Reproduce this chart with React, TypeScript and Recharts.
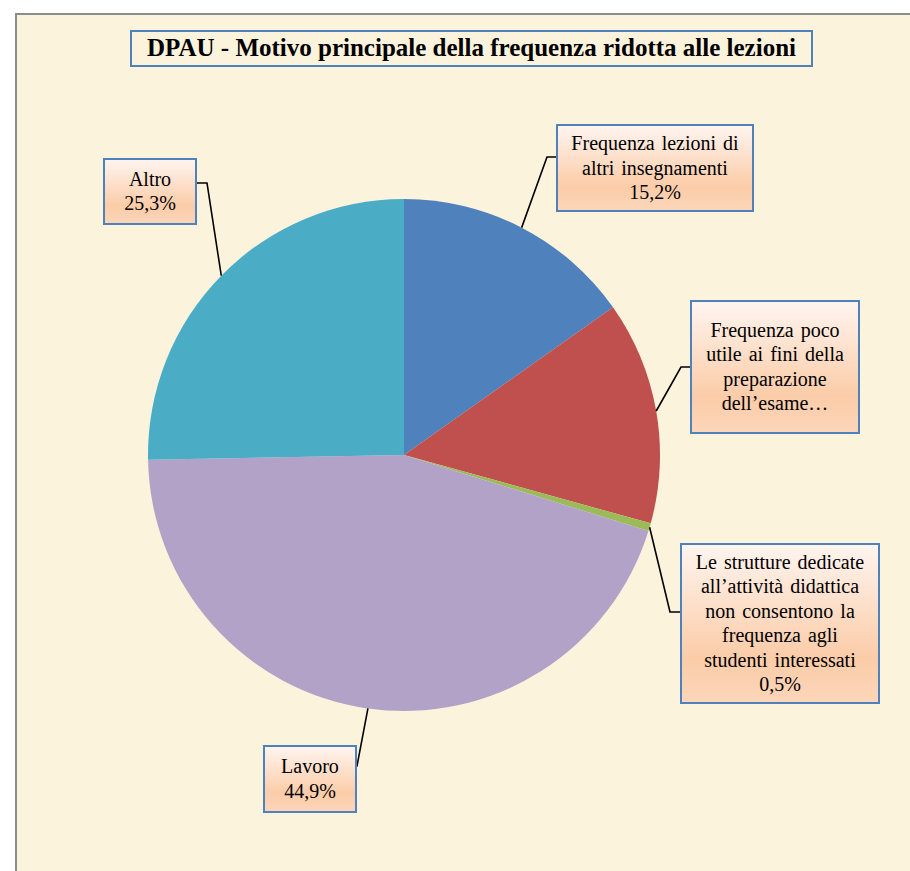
import { Cell, Pie, PieChart } from "recharts";

const TITLE = "DPAU - Motivo principale della frequenza ridotta alle lezioni";

const CATEGORIES = [
  "Frequenza lezioni di altri insegnamenti",
  "Frequenza poco utile ai fini della preparazione dell'esame",
  "Le strutture dedicate all'attività didattica non consentono la frequenza agli studenti interessati",
  "Lavoro",
  "Altro",
];
const VALUES = [15.2, 14.1, 0.5, 44.9, 25.3];
const COLORS = ["#4F81BD", "#C0504D", "#9BBB59", "#B2A2C7", "#4BACC6"];

// text lines shown in each label box (percentage appended unless truncated)
const LABEL_LINES = [
  ["Frequenza lezioni di", "altri insegnamenti"],
  ["Frequenza poco", "utile ai fini della", "preparazione", "dell\u2019esame\u2026"],
  ["Le strutture dedicate", "all\u2019attività didattica", "non consentono la", "frequenza agli", "studenti interessati"],
  ["Lavoro"],
  ["Altro"],
];
const SHOW_PCT = [true, false, true, true, true];

// label box layout relative to pie centre: box (dx, dy, w, h), elbow point, box attach point
const LABEL_LAYOUT = [
  { dx: 153, dy: -330, w: 196, h: 86, elbow: [143, -298], attach: [153, -298] },
  { dx: 287, dy: -154, w: 168, h: 132, elbow: [277, -88], attach: [287, -88] },
  { dx: 277, dy: 89, w: 198, h: 159, elbow: [266, 157], attach: [277, 157] },
  { dx: -140, dy: 291, w: 92, h: 66, elbow: [-47, 311], attach: [-48, 311] },
  { dx: -300, dy: -296, w: 92, h: 65, elbow: [-197, -272], attach: [-208, -272] },
];

const data = CATEGORIES.map((name, i) => ({ name, value: VALUES[i] }));

const RADIAN = Math.PI / 180;
const FONT = "'Liberation Serif', 'Times New Roman', serif";

const renderLabel = (props: any) => {
  const { cx, cy, midAngle, outerRadius, index, percent } = props;
  const ax = cx + outerRadius * Math.cos(-midAngle * RADIAN);
  const ay = cy + outerRadius * Math.sin(-midAngle * RADIAN);
  const L = LABEL_LAYOUT[index];
  const lines = [...LABEL_LINES[index]];
  if (SHOW_PCT[index]) lines.push((percent * 100).toFixed(1).replace(".", ",") + "%");
  const bx = cx + L.dx;
  const by = cy + L.dy;
  const fs = 20;
  const lh = 24.5;
  const first = by + L.h / 2 - ((lines.length - 1) * lh) / 2 + fs * 0.33;
  const gid = `lblGrad-${index}`;
  return (
    <g key={`lbl-${index}`}>
      <defs>
        <linearGradient id={gid} x1="0" y1="0" x2="0" y2="1">
          <stop offset="0%" stopColor="#FFF5F0" />
          <stop offset="72%" stopColor="#FBCCA8" />
          <stop offset="100%" stopColor="#FCD6BA" />
        </linearGradient>
      </defs>
      <polyline
        points={`${ax},${ay} ${cx + L.elbow[0]},${cy + L.elbow[1]} ${cx + L.attach[0]},${cy + L.attach[1]}`}
        fill="none"
        stroke="#000"
        strokeWidth={1.6}
      />
      <rect x={bx} y={by} width={L.w} height={L.h} fill={`url(#${gid})`} stroke="#4F81BD" strokeWidth={2} />
      <text textAnchor="middle" fontFamily={FONT} fontSize={fs} fill="#000" wordSpacing={2}>
        {lines.map((ln, k) => (
          <tspan key={k} x={bx + L.w / 2} y={first + k * lh}>
            {ln}
          </tspan>
        ))}
      </text>
    </g>
  );
};

export default function App() {
  return (
    <div style={{ position: "absolute", left: 0, top: 0, width: 910, height: 871, background: "#fff", overflow: "hidden" }}>
      <div
        style={{
          position: "absolute",
          left: 15,
          top: 13,
          width: 920,
          height: 880,
          boxSizing: "border-box",
          borderLeft: "2px solid #8c8c8c",
          borderTop: "2px solid #8c8c8c",
          background: "#FCF3DC",
        }}
      />
      <div
        style={{
          position: "absolute",
          left: 130,
          top: 30,
          width: 683,
          height: 37,
          boxSizing: "border-box",
          border: "2px solid #4F81BD",
          fontFamily: FONT,
          fontWeight: "bold",
          fontSize: 25,
          lineHeight: "32px",
          textAlign: "center",
          color: "#000",
          whiteSpace: "nowrap",
        }}
      >
        {TITLE}
      </div>
      <div style={{ position: "absolute", left: 0, top: 0 }}>
        <PieChart width={910} height={871} margin={{ top: 0, right: 0, bottom: 0, left: 0 }}>
          <Pie
            data={data}
            dataKey="value"
            nameKey="name"
            cx={404}
            cy={455}
            outerRadius={256}
            startAngle={90}
            endAngle={-270}
            stroke="none"
            label={renderLabel}
            labelLine={false}
            isAnimationActive={false}
          >
            {data.map((_, i) => (
              <Cell key={`cell-${i}`} fill={COLORS[i]} />
            ))}
          </Pie>
        </PieChart>
      </div>
    </div>
  );
}
